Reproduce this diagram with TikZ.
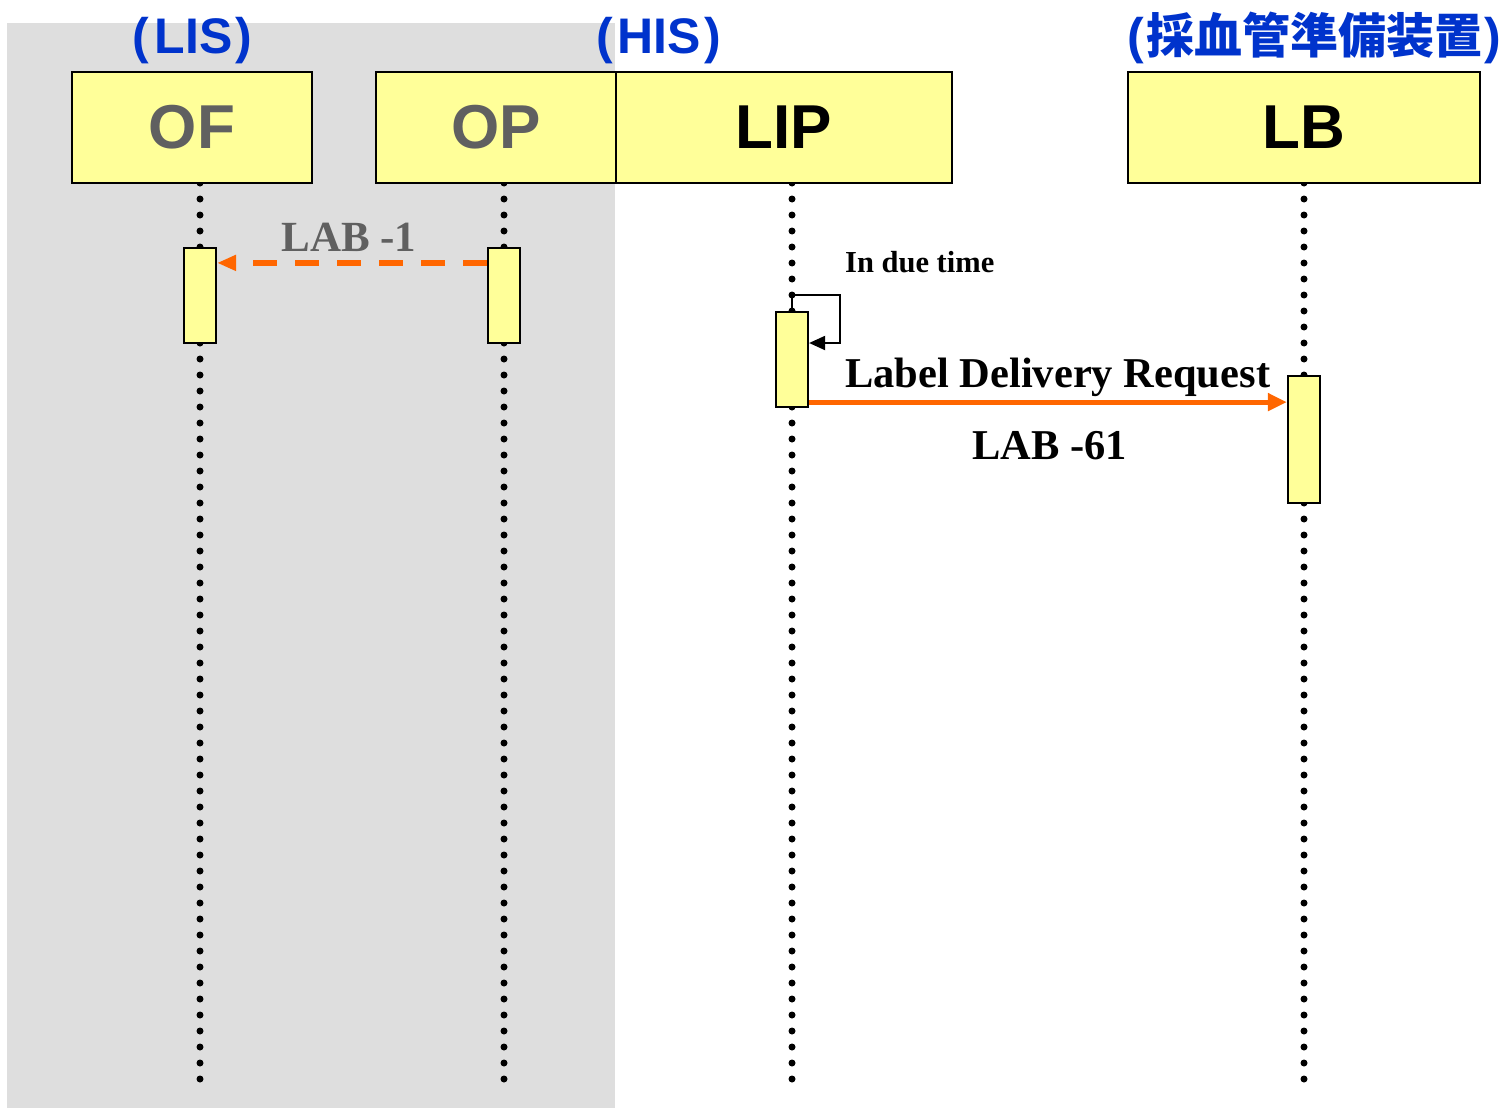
\documentclass[tikz,border=0pt]{standalone}
\usepackage{fontspec}
\setmainfont{Liberation Serif}
\setsansfont{Liberation Sans}
\newfontfamily\cjk{Noto Sans CJK JP}
\usetikzlibrary{arrows.meta,calc}
\definecolor{boxyellow}{HTML}{FFFF99}
\definecolor{lblue}{HTML}{0033CC}
\definecolor{dgray}{HTML}{606060}
\definecolor{orng}{HTML}{FF6600}
\definecolor{shadegray}{HTML}{DEDEDE}
\tikzset{
  lifebox/.style={draw=black, line width=2.2pt, fill=boxyellow, inner sep=0pt, minimum height=111pt,
    font=\sffamily\bfseries\fontsize{62}{70}\selectfont},
  actbox/.style={draw=black, line width=2.2pt, fill=boxyellow, inner sep=0pt, minimum width=32pt},
  lifeline/.style={line width=7pt, line cap=round, dash pattern=on 0pt off 16pt},
  syslabel/.style={text=lblue, font=\sffamily\bfseries\fontsize{50}{56}\selectfont, anchor=base, inner sep=0pt},
  msgtext/.style={font=\rmfamily\bfseries\fontsize{42.5}{48}\selectfont, anchor=base west, inner sep=0pt},
  asyncmsg/.style={orng, line width=6pt, dash pattern=on 24pt off 18pt, -{Triangle[length=19pt,width=15pt]}},
  syncmsg/.style={orng, line width=5pt, -{Triangle[length=19pt,width=17pt]}},
  selfmsg/.style={black, line width=2pt, -{Triangle[length=16pt,width=14pt]}},
}
\begin{document}
\begin{tikzpicture}[x=1pt,y=-1pt]
\useasboundingbox (0,0) rectangle (1504,1108);
\fill[shadegray] (7,23) rectangle (615,1108);

% system labels
\node[syslabel] (lis) at (192.5,53) {(\hspace{5pt}LIS\hspace{3pt})};
\node[syslabel] (his) at (658.5,53) {(\hspace{5pt}HIS\hspace{3pt})};
\node[syslabel] (dev) at (1314,53) {(\hspace{2pt}{\cjk\bfseries\fontsize{48}{54}\selectfont 採血管準備装置}\hspace{2pt})};

% lifeline coordinates
\coordinate (OFt) at (200,183);  \coordinate (OFb) at (200,1080);
\coordinate (OPt) at (504,183);  \coordinate (OPb) at (504,1080);
\coordinate (LIPt) at (792,183); \coordinate (LIPb) at (792,1080);
\coordinate (LBt) at (1304,183); \coordinate (LBb) at (1304,1080);

\draw[lifeline] (OFt) -- (OFb);
\draw[lifeline] (OPt) -- (OPb);
\draw[lifeline] (LIPt) -- (LIPb);
\draw[lifeline] (LBt) -- (LBb);

% header boxes
\node[lifebox, minimum width=240pt, text=dgray] (OF) at (192,127.5) {OF};
\node[lifebox, minimum width=240pt, text=dgray] (OP) at (496,127.5) {OP};
\node[lifebox, minimum width=336pt] (LIP) at (784,127.5) {LIP};
\node[lifebox, minimum width=352pt] (LB) at (1304,127.5) {LB};

% activation boxes
\node[actbox, minimum height=95pt] (OFact) at (200,295.5) {};
\node[actbox, minimum height=95pt] (OPact) at (504,295.5) {};
\node[actbox, minimum height=95pt] (LIPact) at (792,359.5) {};
\node[actbox, minimum height=127pt] (LBact) at (1304,439.5) {};

% messages
\draw[asyncmsg] ($(OPact.north west)+(0,16)$) -- ($(OFact.north east)+(0,16)$);
\node[msgtext, anchor=base, text=dgray, font=\rmfamily\bfseries\fontsize{43}{48}\selectfont] (lab1) at (349,251) {LAB -1};

\draw[selfmsg] (LIPact.north) -- ++(0,-16) -- ++(48,0) |- (LIPact.east |- 0,343);
\node[msgtext, font=\rmfamily\bfseries\fontsize{30.5}{34}\selectfont] (due) at (845,272) {In due time};

\coordinate (req) at ($(LIPact.south east)+(0,-6)$);
\draw[syncmsg] (req) -- (req -| LBact.west);
\node[msgtext] (ldr) at (845,387) {Label Delivery Request};
\node[msgtext] (lab61) at (972,459) {LAB -61};
\end{tikzpicture}
\end{document}
